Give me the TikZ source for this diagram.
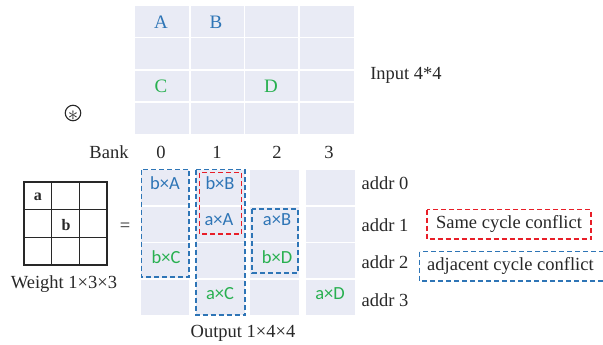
\documentclass[tikz,border=0pt]{standalone}
\usepackage{fontspec}
\setmainfont{Liberation Serif}
\newfontfamily\cellfont{Carlito}
\definecolor{cellbg}{RGB}{233,235,245}
\definecolor{ablue}{RGB}{46,117,182}
\definecolor{agreen}{RGB}{40,176,80}
\definecolor{ared}{RGB}{232,30,40}
\definecolor{txt}{RGB}{40,40,40}
\tikzset{
  lbl/.style={inner sep=0pt, text=txt, font=\fontsize{18.5}{20}\selectfont},
  inlbl/.style={inner sep=0pt, font=\fontsize{19}{21}\selectfont},
  cl/.style={inner sep=0pt, font=\cellfont\fontsize{18.5}{20}\selectfont},
  bluedash/.style={draw=ablue, line width=1.9pt, dash pattern=on 5pt off 3pt},
  reddash/.style={draw=ared, line width=1.6pt, dash pattern=on 5pt off 3pt},
  sep/.style={draw=white, line width=1.8pt},
  wgrid/.style={draw=txt, line width=1.1pt}
}
\begin{document}
\begin{tikzpicture}[x=1pt,y=-1pt]
\useasboundingbox (0,0) rectangle (603,345);
% input grid
\fill[cellbg] (135,6) rectangle (354,134);
\foreach \x in {190,244.5,299} \draw[sep] (\x,6) -- (\x,134);
\foreach \y in {37.5,70,102} \draw[sep] (135,\y) -- (354,\y);
\node[inlbl, text=ablue] (A) at (161,22) {A};
\node[inlbl, text=ablue] (B) at (216,22) {B};
\node[inlbl, text=agreen] (C) at (161,86) {C};
\node[inlbl, text=agreen] (D) at (271,86) {D};
\node[lbl] (inp) at (406,75) {Input 4*4};
% conv symbol
\node[draw=txt, circle, line width=1.1pt, minimum size=15.5pt, inner sep=0pt] (conv) at (73,113) {};
\node[inner sep=0pt, text=txt, font=\fontsize{20}{20}\selectfont] (convs) at (73,115.5) {$\ast$};
% bank labels
\node[lbl] (bank) at (109,152) {Bank};
\node[lbl] (b0) at (161,152) {0};
\node[lbl] (b1) at (217,152) {1};
\node[lbl] (b2) at (277,152) {2};
\node[lbl] (b3) at (329,152) {3};
% output columns
\fill[cellbg] (141,170) rectangle (189,315);
\fill[cellbg] (196,170) rectangle (245,315);
\fill[cellbg] (250,170) rectangle (299,315);
\fill[cellbg] (306,170) rectangle (355,315);
\foreach \y in {206,242.5,279} \draw[sep] (139,\y) -- (357,\y);
% cell labels
\node[cl, text=ablue] (bA) at (165,183) {b×A};
\node[cl, text=ablue] (bB) at (220,183) {b×B};
\node[cl, text=ablue] (aA) at (219,220) {a×A};
\node[cl, text=ablue] (aB) at (277,220) {a×B};
\node[cl, text=agreen] (bC) at (166,257) {b×C};
\node[cl, text=agreen] (bD) at (277,257) {b×D};
\node[cl, text=agreen] (aC) at (220,294) {a×C};
\node[cl, text=agreen] (aD) at (330,294) {a×D};
% dashed groups
\draw[bluedash] (141.5,169.5) rectangle (189,277);
\draw[bluedash] (196,169.5) rectangle (245,315);
\draw[bluedash] (252,209) rectangle (298,273);
\draw[reddash] (199.5,172.5) rectangle (241.5,234);
% addr labels
\node[lbl] (a0) at (385,183) {addr 0};
\node[lbl] (a1) at (385,225) {addr 1};
\node[lbl] (a2) at (385,262) {addr 2};
\node[lbl] (a3) at (385,300) {addr 3};
% legend
\draw[reddash] (427,209.5) rectangle (591,239);
\node[lbl] (same) at (509,224) {Same cycle conflict};
\draw[bluedash] (419.5,251.5) rectangle (610,281);
\node[lbl, anchor=west] (adj) at (427,266) {adjacent cycle conflict};
% weight grid
\draw[wgrid] (24,182) rectangle (107,265);
\foreach \x in {51.7,79.3} \draw[wgrid] (\x,182) -- (\x,265);
\foreach \y in {209.7,237.3} \draw[wgrid] (24,\y) -- (107,\y);
\node[inner sep=0pt, text=txt, font=\bfseries\fontsize{16}{18}\selectfont] (wa) at (38,197) {a};
\node[inner sep=0pt, text=txt, font=\bfseries\fontsize{16}{18}\selectfont] (wb) at (66,225) {b};
\node[lbl] (eq) at (125,227) {=};
\node[lbl] (wlbl) at (64,284) {Weight 1×3×3};
\node[lbl] (olbl) at (243,333) {Output 1×4×4};
\end{tikzpicture}
\end{document}
